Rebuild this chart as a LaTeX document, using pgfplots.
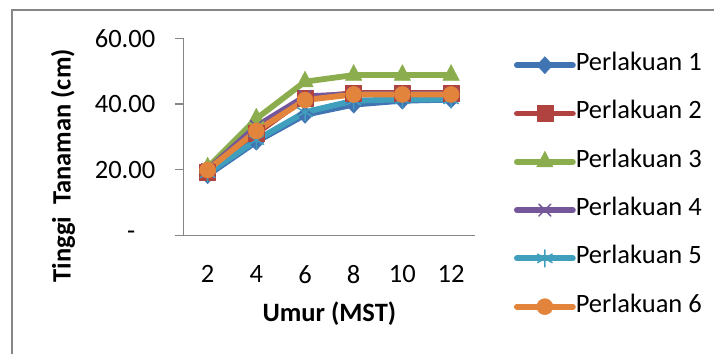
\documentclass[border=0pt]{standalone}
\usepackage{fontspec}
\setmainfont{Carlito}
\usepackage{pgfplots}
\pgfplotsset{compat=1.18}
\definecolor{axisgray}{HTML}{868686}
\definecolor{c1}{HTML}{4174B3}
\definecolor{c2}{HTML}{B0423F}
\definecolor{c3}{HTML}{8CAD4E}
\definecolor{c4}{HTML}{73579A}
\definecolor{c5}{HTML}{409FBD}
\definecolor{c6}{HTML}{E3843C}
\newcommand\F{\fontsize{26.5bp}{31bp}\selectfont}
\begin{document}
\F
\begin{tikzpicture}[font=\F]
\useasboundingbox (0,0) rectangle (714bp,354bp);
\draw[color=axisgray, line width=1.5bp] (12bp,0) -- (12bp,344bp) -- (714bp,344bp);
\begin{axis}[
  at={(183.3bp,118.7bp)}, anchor=south west,
  scale only axis, width=292.1bp, height=197bp,
  xmin=1, xmax=13, ymin=0, ymax=60,
  axis x line*=bottom, axis y line*=left,
  axis line style={-, color=axisgray, line width=1.2bp},
  xtick={2,4,6,8,10,12}, xticklabels={2,4,6,8,10,12},
  x tick style={draw=none},
  ytick={0,20,40,60}, yticklabels={-\hspace*{20bp},20.00,40.00,60.00},
  tick align=outside, major tick length=8bp,
  y tick style={color=axisgray, line width=1.2bp},
  /pgf/number format/assume math mode=true,
  xticklabel style={font=\F, yshift=-13bp},
  yticklabel style={font=\F, xshift=-11bp},
  xlabel={Umur (MST)}, ylabel={Tinggi\ \ Tanaman (cm)},
  label style={font=\F\bfseries},
  xlabel style={at={(axis description cs:0.5,-0.398)}, anchor=center},
  ylabel style={at={(axis description cs:-0.412,0.353)}, anchor=center},
  legend style={at={(axis description cs:1.132,0.922)}, anchor=north west,
    draw=none, fill=none, inner sep=0pt, outer sep=0pt, row sep=25.3bp, font=\F,
    nodes={inner sep=0pt, text height=17bp, text depth=6bp},
    /tikz/every even column/.append style={column sep=4bp}},
  legend cell align=left,
  legend image code/.code={\draw[mark repeat=2,mark phase=2,#1] plot coordinates {(0bp,0bp) (28bp,0bp) (56bp,0bp)};},
  every axis plot/.append style={line width=5.8bp, line join=round, line cap=round},
  clip=false,
]
\addplot[c1, mark=diamond*, mark size=8.5bp, mark options={solid, line width=0.5bp, xscale=1.25}]
  coordinates {(2,18.3) (4,28.5) (6,36.7) (8,39.8) (10,41.0) (12,41.3)};
\addlegendentry{Perlakuan 1}
\addplot[c2, mark=square*, mark size=8bp, mark options={solid, line width=0.5bp}]
  coordinates {(2,19.3) (4,31.0) (6,41.8) (8,43.3) (10,43.3) (12,43.3)};
\addlegendentry{Perlakuan 2}
\addplot[c3, mark=triangle*, mark size=9.5bp, mark options={solid, line width=0.5bp, yscale=1.1}]
  coordinates {(2,20.6) (4,35.5) (6,46.8) (8,48.8) (10,48.8) (12,48.8)};
\addlegendentry{Perlakuan 3}
\addplot[c4, mark=x, mark size=8.5bp, mark options={solid, line width=1.5bp}]
  coordinates {(2,20.0) (4,33.2) (6,42.3) (8,43.0) (10,43.0) (12,43.0)};
\addlegendentry{Perlakuan 4}
\addplot[c5, mark=asterisk, mark size=8.5bp, mark options={solid, line width=1.5bp}]
  coordinates {(2,18.9) (4,29.0) (6,37.5) (8,41.0) (10,41.4) (12,41.4)};
\addlegendentry{Perlakuan 5}
\addplot[c6, mark=*, mark size=8bp, mark options={solid, line width=0.5bp}]
  coordinates {(2,19.9) (4,31.8) (6,41.2) (8,42.9) (10,42.9) (12,42.9)};
\addlegendentry{Perlakuan 6}
\end{axis}
\end{tikzpicture}
\end{document}
